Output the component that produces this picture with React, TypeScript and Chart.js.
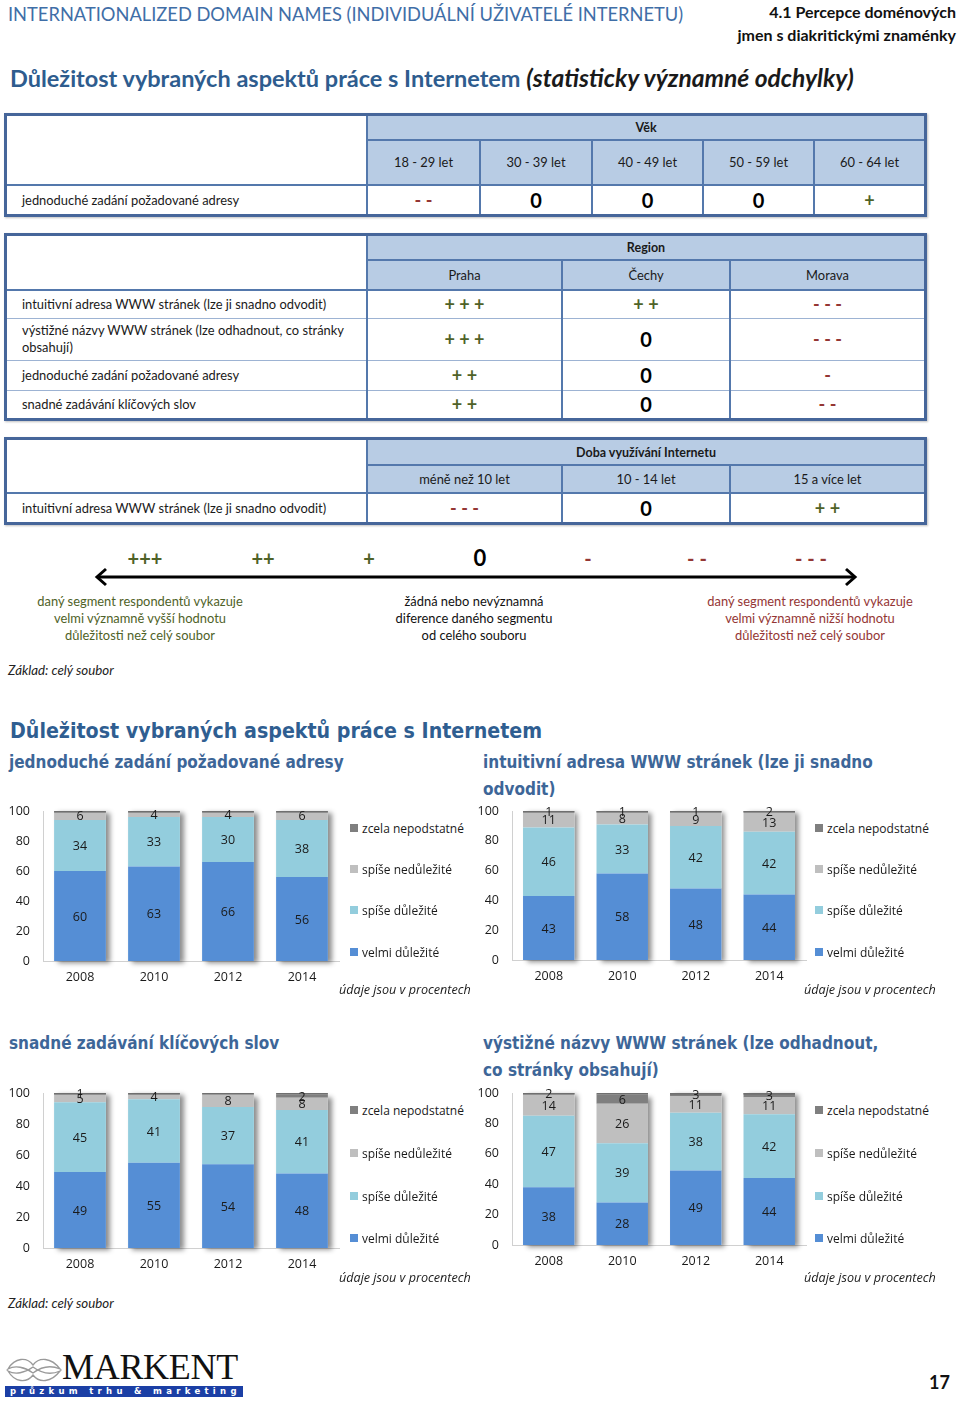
import React, { useEffect, useRef } from "react";
import { Chart, registerables } from "chart.js";

Chart.register(...registerables);

// ---------- data ----------
const YEARS = ["2008", "2010", "2012", "2014"];
const SERIES_NAMES = ["velmi důležité", "spíše důležité", "spíše nedůležité", "zcela nepodstatné"];
const SERIES_COLORS = ["#558ED5", "#93CDDD", "#BFBFBF", "#7F7F7F"];

const adresaVelmi = [60, 63, 66, 56];
const adresaSpise = [34, 33, 30, 38];
const adresaNedul = [6, 4, 4, 6];
const adresaZcela = [0, 0, 0, 0];

const intuitVelmi = [43, 58, 48, 44];
const intuitSpise = [46, 33, 42, 42];
const intuitNedul = [11, 8, 9, 13];
const intuitZcela = [1, 1, 1, 2];

const klicVelmi = [49, 55, 54, 48];
const klicSpise = [45, 41, 37, 41];
const klicNedul = [5, 4, 8, 8];
const klicZcela = [1, 0, 0, 2];

const nazvyVelmi = [38, 28, 49, 44];
const nazvySpise = [47, 39, 38, 42];
const nazvyNedul = [14, 26, 11, 11];
const nazvyZcela = [2, 6, 3, 3];

const Y_MAX = 100;
const Y_STEP = 20;

const AGE_COLS = ["18 - 29 let", "30 - 39 let", "40 - 49 let", "50 - 59 let", "60 - 64 let"];
const AGE_ROW = "jednoduché zadání požadované adresy";
const AGE_VALUES = ["- -", "0", "0", "0", "+"];

const REGION_COLS = ["Praha", "Čechy", "Morava"];
const REGION_ROWS = [
  "intuitivní adresa WWW stránek (lze ji snadno odvodit)",
  "výstižné názvy WWW stránek (lze odhadnout, co stránky\nobsahují)",
  "jednoduché zadání požadované adresy",
  "snadné zadávání klíčových slov",
];
const REGION_VALUES = [
  ["+ + +", "+ +", "- - -"],
  ["+ + +", "0", "- - -"],
  ["+ +", "0", "-"],
  ["+ +", "0", "- -"],
];

const USAGE_COLS = ["méně než 10 let", "10 - 14 let", "15 a více let"];
const USAGE_ROW = "intuitivní adresa WWW stránek (lze ji snadno odvodit)";
const USAGE_VALUES = ["- - -", "0", "+ +"];

const SCALE_SIGNS = ["+++", "++", "+", "0", "-", "- -", "- - -"];

// ---------- styles ----------
const CAL = "Lato, 'Open Sans', sans-serif";
const VER = "'DejaVu Sans Condensed', 'DejaVu Sans', sans-serif";
const OS = "'Open Sans', sans-serif";
const GREEN = "#4F6228";
const RED = "#943634";
const HEAD_BG = "#B8CCE4";
const LINE = "#5478AC";
const OUTER = "#46669A";

const abs = (x: number, y: number, extra: React.CSSProperties = {}): React.CSSProperties => ({
  position: "absolute",
  left: x,
  top: y,
  ...extra,
});

function Sign({ s }: { s: string }) {
  if (s === "0")
    return <span style={{ fontFamily: CAL, fontWeight: 700, fontSize: 20, color: "#000" }}>0</span>;
  const color = s.startsWith("+") ? GREEN : RED;
  return (
    <span style={{ fontFamily: CAL, fontWeight: 700, fontSize: 18, color, whiteSpace: "pre" }}>{s}</span>
  );
}

function Box({
  x, y, w, h, bg, children, align = "center", style = {},
}: {
  x: number; y: number; w: number; h: number; bg?: string; children?: React.ReactNode;
  align?: "center" | "left"; style?: React.CSSProperties;
}) {
  return (
    <div
      style={abs(x, y, {
        width: w,
        height: h,
        background: bg,
        display: "flex",
        alignItems: "center",
        justifyContent: align === "center" ? "center" : "flex-start",
        paddingLeft: align === "left" ? 17 : 0,
        boxSizing: "border-box",
        fontFamily: CAL,
        fontSize: 12.9,
        color: "#1a1a1a",
        whiteSpace: "pre-line",
        lineHeight: "17px",
        ...style,
      })}
    >
      {children}
    </div>
  );
}

const VLine = ({ x, y1, y2, c = LINE, w = 2 }: { x: number; y1: number; y2: number; c?: string; w?: number }) => (
  <div style={abs(x - w / 2, y1, { width: w, height: y2 - y1, background: c })} />
);
const HLine = ({ y, x1, x2, c = LINE, w = 2 }: { y: number; x1: number; x2: number; c?: string; w?: number }) => (
  <div style={abs(x1, y - w / 2, { width: x2 - x1, height: w, background: c })} />
);

function Table({
  top, rowsY, cols, title, colLabels, rowLabels, values,
}: {
  top: number; rowsY: number[]; cols: number[]; title: string; colLabels: string[];
  rowLabels: string[]; values: string[][];
}) {
  const L = 5, R = 925, SPLIT = 367;
  const bottom = rowsY[rowsY.length - 1];
  const items: React.ReactNode[] = [];
  items.push(<Box key="tb" x={SPLIT} y={top} w={R - SPLIT} h={rowsY[0] - top} bg={HEAD_BG}
    style={{ fontWeight: 700, fontSize: 12.5 }}>{title}</Box>);
  colLabels.forEach((c, i) =>
    items.push(<Box key={"c" + i} x={cols[i]} y={rowsY[0]} w={cols[i + 1] - cols[i]} h={rowsY[1] - rowsY[0]} bg={HEAD_BG}>{c}</Box>)
  );
  rowLabels.forEach((r, ri) => {
    const y0 = rowsY[ri + 1], y1 = rowsY[ri + 2];
    items.push(<Box key={"r" + ri} x={L} y={y0} w={SPLIT - L} h={y1 - y0} align="left">{r}</Box>);
    values[ri].forEach((v, ci) =>
      items.push(<Box key={"v" + ri + "_" + ci} x={cols[ci]} y={y0} w={cols[ci + 1] - cols[ci]} h={y1 - y0}><Sign s={v} /></Box>)
    );
  });
  items.push(<HLine key="h0" y={rowsY[0]} x1={SPLIT} x2={R} />);
  items.push(<HLine key="h1" y={rowsY[1]} x1={L} x2={R} />);
  for (let k = 2; k < rowsY.length - 1; k++)
    items.push(<HLine key={"hr" + k} y={rowsY[k]} x1={L} x2={R} c="#9DB3D3" w={1} />);
  items.push(<VLine key="vs" x={SPLIT} y1={top} y2={bottom} />);
  for (let k = 1; k < cols.length - 1; k++)
    items.push(<VLine key={"vc" + k} x={cols[k]} y1={rowsY[0]} y2={bottom} />);
  items.push(
    <div key="outer" style={abs(L - 1, top - 2, {
      width: R - L + 3, height: bottom - top + 4, border: `3px solid ${OUTER}`, boxSizing: "border-box",
      boxShadow: "1px 1px 2px rgba(0,0,0,0.25)",
    })} />
  );
  return <>{items}</>;
}

// ---------- chart ----------
const shadowPlugin = {
  id: "stackShadow",
  beforeDatasetsDraw(chart: any) {
    const ctx = chart.ctx;
    const metas = chart.getSortedVisibleDatasetMetas();
    const n = chart.data.labels.length;
    ctx.save();
    ctx.shadowColor = "rgba(0,0,0,0.45)";
    ctx.shadowBlur = 5;
    ctx.shadowOffsetX = 4;
    ctx.shadowOffsetY = 2;
    ctx.fillStyle = "#ffffff";
    for (let i = 0; i < n; i++) {
      const el = metas[0].data[i];
      let t = Infinity;
      metas.forEach((m: any) => (t = Math.min(t, m.data[i].y)));
      t = Math.max(t, chart.chartArea.top);
      ctx.fillRect(el.x - el.width / 2, t, el.width, el.base - t);
    }
    ctx.restore();
  },
  afterDatasetsDraw(chart: any) {
    const ctx = chart.ctx;
    const metas = chart.getSortedVisibleDatasetMetas();
    const n = chart.data.labels.length;
    ctx.save();
    ctx.fillStyle = "#6F6F6F";
    for (let i = 0; i < n; i++) {
      const el = metas[0].data[i];
      ctx.fillRect(el.x - el.width / 2, chart.chartArea.top, el.width, 1.6);
    }
    ctx.font = `12.5px ${OS}`;
    ctx.fillStyle = "#1a1a1a";
    ctx.textAlign = "center";
    ctx.textBaseline = "middle";
    metas.forEach((m: any) => {
      m.data.forEach((el: any, i: number) => {
        const v = chart.data.datasets[m.index].data[i];
        if (!v) return;
        const top = Math.max(el.y, chart.chartArea.top);
        ctx.fillText(String(v), el.x, (top + el.base) / 2 + 1);
      });
    });
    ctx.restore();
  },
};

function StackedChart({
  left, top, width, height, series,
}: { left: number; top: number; width: number; height: number; series: number[][] }) {
  const ref = useRef<HTMLCanvasElement>(null);
  useEffect(() => {
    const tickFont = { family: OS, size: 12.5 };
    const chart = new Chart(ref.current!, {
      type: "bar",
      data: {
        labels: YEARS,
        datasets: series.map((d, i) => ({
          label: SERIES_NAMES[i],
          data: d,
          backgroundColor: SERIES_COLORS[i],
          borderWidth: 0,
          barPercentage: 0.7,
          categoryPercentage: 1,
        })),
      },
      options: {
        animation: false,
        responsive: false,
        maintainAspectRatio: false,
        layout: { padding: { top: 11, right: 6, left: 0, bottom: 0 } },
        plugins: { legend: { display: false }, tooltip: { enabled: false } },
        scales: {
          x: {
            stacked: true,
            grid: { display: false, drawTicks: false },
            border: { color: "#D0D0D0" },
            ticks: { font: tickFont, color: "#1a1a1a", padding: 9 },
            afterFit: (s: any) => { s.height = 30; },
          },
          y: {
            stacked: true,
            min: 0,
            max: Y_MAX,
            grid: { display: false, drawTicks: false },
            border: { color: "#D0D0D0" },
            ticks: { stepSize: Y_STEP, font: tickFont, color: "#1a1a1a", padding: 13 },
            afterFit: (s: any) => {
              s.width = 43;
              s.paddingTop = 0;
              s.paddingBottom = 0;
            },
          },
        },
      } as any,
      plugins: [shadowPlugin],
    });
    return () => chart.destroy();
  }, []);
  return (
    <canvas ref={ref} width={width} height={height}
      style={{ position: "absolute", left, top, width, height }} />
  );
}

function Legend({ x, ys }: { x: number; ys: number[] }) {
  const order = [3, 2, 1, 0];
  return (
    <>
      {order.map((si, k) => (
        <div key={si} style={abs(x, ys[k] - 9, { display: "flex", alignItems: "center", height: 18 })}>
          <div style={{ width: 8, height: 8, background: SERIES_COLORS[si], marginRight: 4 }} />
          <span style={{ fontFamily: OS, fontSize: 12, color: "#1a1a1a", whiteSpace: "nowrap" }}>{SERIES_NAMES[si]}</span>
        </div>
      ))}
    </>
  );
}

const Note = ({ x, y, text, size = 12.6 }: { x: number; y: number; text: string; size?: number }) => (
  <div style={abs(x, y - 9, { fontFamily: OS, fontStyle: "italic", fontSize: size, color: "#1a1a1a", whiteSpace: "nowrap", lineHeight: "18px" })}>
    {text}
  </div>
);

const ChartTitle = ({ x, y, lines }: { x: number; y: number; lines: string[] }) => (
  <div style={abs(x, y - 13, { fontFamily: VER, fontWeight: 700, fontSize: 17, color: "#3D6698", lineHeight: "27px", whiteSpace: "nowrap" })}>
    {lines.map((l, i) => <div key={i}>{l}</div>)}
  </div>
);

export default function App() {
  const scaleX = [145, 263, 369, 480, 588, 697, 811];
  return (
    <div style={{ position: "absolute", left: 0, top: 0, width: 960, height: 1403, background: "#fff", overflow: "hidden" }}>
      {/* header */}
      <div style={abs(8, 2, { fontFamily: CAL, fontSize: 18.3, color: "#3F6EA7", whiteSpace: "nowrap", lineHeight: "24px" })}>
        INTERNATIONALIZED DOMAIN NAMES (INDIVIDUÁLNÍ UŽIVATELÉ INTERNETU)
      </div>
      <div style={{ position: "absolute", right: 4, top: 0, textAlign: "right", fontFamily: CAL, fontWeight: 700, fontSize: 16, lineHeight: "23px", color: "#111" }}>
        <div>4.1 Percepce doménových</div>
        <div>jmen s diakritickými znaménky</div>
      </div>
      <div style={abs(10, 63, { fontFamily: CAL, fontWeight: 700, fontSize: 23.5, whiteSpace: "nowrap", lineHeight: "30px" })}>
        <span style={{ color: "#2E5C8E" }}>Důležitost vybraných aspektů práce s Internetem </span>
        <span style={{ color: "#1a1a1a", fontStyle: "italic", fontSize: 24.6 }}>(statisticky významné odchylky)</span>
      </div>

      {/* tables */}
      <Table top={115} rowsY={[140, 185, 215]} cols={[367, 480, 592, 703, 814, 925]} title="Věk"
        colLabels={AGE_COLS} rowLabels={[AGE_ROW]} values={[AGE_VALUES]} />
      <Table top={235} rowsY={[260, 290, 318, 360, 390, 419]} cols={[367, 562, 730, 925]} title="Region"
        colLabels={REGION_COLS} rowLabels={REGION_ROWS} values={REGION_VALUES} />
      <Table top={439} rowsY={[465, 493, 523]} cols={[367, 562, 730, 925]} title="Doba využívání Internetu"
        colLabels={USAGE_COLS} rowLabels={[USAGE_ROW]} values={[USAGE_VALUES]} />

      {/* significance scale */}
      {SCALE_SIGNS.map((s, i) => (
        <div key={i} style={abs(scaleX[i] - 40, 545, { width: 80, textAlign: "center", lineHeight: "26px" })}>
          {s === "0" ? (
            <span style={{ fontFamily: CAL, fontWeight: 700, fontSize: 22, color: "#000" }}>0</span>
          ) : (
            <span style={{ fontFamily: CAL, fontWeight: 700, fontSize: 20, color: s.startsWith("+") ? GREEN : RED, whiteSpace: "pre" }}>{s}</span>
          )}
        </div>
      ))}
      <svg style={abs(90, 566)} width={772} height={24}>
        <line x1={8} y1={11} x2={764} y2={11} stroke="#000" strokeWidth={3} />
        <polyline points="16,3 7,11 16,19" fill="none" stroke="#000" strokeWidth={3} />
        <polyline points="756,3 765,11 756,19" fill="none" stroke="#000" strokeWidth={3} />
      </svg>
      {[
        { x: 140, c: GREEN, t: ["daný segment respondentů vykazuje", "velmi významně vyšší hodnotu", "důležitosti než celý soubor"] },
        { x: 474, c: "#111", t: ["žádná nebo nevýznamná", "diference daného segmentu", "od celého souboru"] },
        { x: 810, c: RED, t: ["daný segment respondentů vykazuje", "velmi významně nižší hodnotu", "důležitosti než celý soubor"] },
      ].map((b, i) => (
        <div key={i} style={abs(b.x - 150, 593, { width: 300, textAlign: "center", fontFamily: CAL, fontSize: 12.9, lineHeight: "17px", color: b.c })}>
          {b.t.map((l, k) => <div key={k}>{l}</div>)}
        </div>
      ))}
      <div style={abs(8, 661, { fontFamily: CAL, fontStyle: "italic", fontSize: 13.3, color: "#222", lineHeight: "18px" })}>Základ: celý soubor</div>

      {/* charts section */}
      <div style={abs(10, 716, { fontFamily: VER, fontWeight: 700, fontSize: 21.2, color: "#2F5E91", whiteSpace: "nowrap", lineHeight: "30px" })}>
        Důležitost vybraných aspektů práce s Internetem
      </div>

      <ChartTitle x={9} y={762} lines={["jednoduché zadání požadované adresy"]} />
      <StackedChart left={0} top={800} width={345} height={191} series={[adresaVelmi, adresaSpise, adresaNedul, adresaZcela]} />
      <Legend x={350} ys={[828, 869, 910, 952]} />
      <Note x={339} y={990} text="údaje jsou v procentech" />

      <ChartTitle x={483} y={762} lines={["intuitivní adresa WWW stránek (lze ji snadno", "odvodit)"]} />
      <StackedChart left={469} top={800} width={343} height={190} series={[intuitVelmi, intuitSpise, intuitNedul, intuitZcela]} />
      <Legend x={815} ys={[828, 869, 910, 952]} />
      <Note x={804} y={990} text="údaje jsou v procentech" />

      <ChartTitle x={9} y={1043} lines={["snadné zadávání klíčových slov"]} />
      <StackedChart left={0} top={1082} width={345} height={196} series={[klicVelmi, klicSpise, klicNedul, klicZcela]} />
      <Legend x={350} ys={[1110, 1153, 1196, 1238]} />
      <Note x={339} y={1278} text="údaje jsou v procentech" />

      <ChartTitle x={483} y={1043} lines={["výstižné názvy WWW stránek (lze odhadnout,", "co stránky obsahují)"]} />
      <StackedChart left={469} top={1082} width={343} height={193} series={[nazvyVelmi, nazvySpise, nazvyNedul, nazvyZcela]} />
      <Legend x={815} ys={[1110, 1153, 1196, 1238]} />
      <Note x={804} y={1278} text="údaje jsou v procentech" />

      <div style={abs(8, 1294, { fontFamily: CAL, fontStyle: "italic", fontSize: 13.3, color: "#222", lineHeight: "18px" })}>Základ: celý soubor</div>

      {/* logo */}
      <svg style={abs(5, 1355)} width={58} height={30}>
        <path d="M3,14 C10,2 22,2 28,10 C34,2 46,2 55,14 C46,10 36,12 28,18 C20,12 10,10 3,14 Z" fill="none" stroke="#9A9A9A" strokeWidth={1.3} />
        <path d="M3,16 C10,28 22,28 28,20 C34,28 46,28 55,16 C46,20 36,18 28,12 C20,18 10,20 3,16 Z" fill="none" stroke="#9A9A9A" strokeWidth={1.3} />
      </svg>
      <div style={abs(62, 1352, { fontFamily: "'Liberation Serif', serif", fontSize: 36, lineHeight: "31px", height: 31, color: "#111", letterSpacing: -0.3, whiteSpace: "nowrap" })}>MARKENT</div>
      <div style={abs(5, 1386, { width: 238, height: 11, background: "#1B3FA5", color: "#fff", fontFamily: "'DejaVu Sans', sans-serif", fontSize: 8.5, fontWeight: 700, lineHeight: "11px", letterSpacing: 4.3, paddingLeft: 5, boxSizing: "border-box", whiteSpace: "nowrap", overflow: "hidden" })}>
        průzkum trhu &amp; marketing
      </div>
      <div style={abs(929, 1371, { fontFamily: CAL, fontWeight: 700, fontSize: 18, lineHeight: "22px", color: "#111" })}>17</div>
    </div>
  );
}
